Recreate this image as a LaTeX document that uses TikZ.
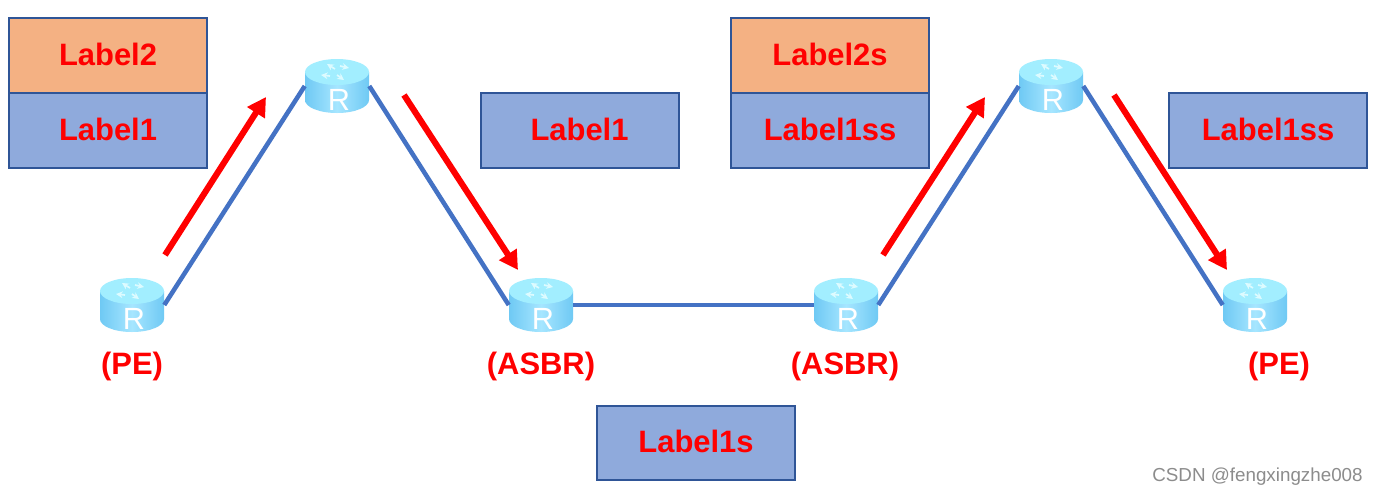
\documentclass[tikz,border=0pt]{standalone}
\usepackage{fontspec}
\setmainfont{Liberation Sans}
\usetikzlibrary{arrows.meta}
\definecolor{boxblue}{HTML}{8FAADC}
\definecolor{boxorange}{HTML}{F4B183}
\definecolor{boxline}{HTML}{2F5597}
\definecolor{linkblue}{HTML}{4472C4}
\definecolor{rtop}{HTML}{A2EEFF}
\definecolor{rside}{HTML}{A6E6FF}
\definecolor{rsidedark}{HTML}{6FC9F4}
\definecolor{rlight}{HTML}{DDFBFF}
\tikzset{
  x=0.75pt,y=-0.75pt,
  labelbox/.style={draw=boxline,line width=1.5pt,minimum width=148.5pt,minimum height=56.2pt,inner sep=0pt,
     text=red,font=\fontsize{23.2pt}{26pt}\selectfont\bfseries,text depth=2.2pt},
  bluebox/.style={labelbox,fill=boxblue},
  orangebox/.style={labelbox,fill=boxorange},
  routerbox/.style={minimum width=48pt,minimum height=42pt,inner sep=0pt},
  rolelabel/.style={text=red,font=\fontsize{23.2pt}{26pt}\selectfont\bfseries,anchor=base,inner sep=0pt},
  link/.style={draw=linkblue,line width=3.4pt},
  flow/.style={draw=red,line width=4.6pt,-{Triangle[length=14pt,width=15pt]}},
  rletter/.style={text=white,font=\fontsize{23pt}{24pt}\selectfont,anchor=base,inner sep=0pt},
  markglyph/.style={draw=rlight,line width=1.3pt,-{Stealth[length=5pt,width=5pt]}}
}
\newcommand{\routernode}[2]{%
  \node[routerbox] (#1) at (#2) {};
  \begin{scope}[shift={(#2)}]
    \path[left color=rsidedark,right color=rsidedark,middle color=rside]
      (-32,-14) -- (-32,14) arc[x radius=32,y radius=13,start angle=180,end angle=0] -- (32,-14) -- cycle;
    \path[fill=rtop] (0,-14) ellipse[x radius=32,y radius=13];
    \draw[markglyph] (-2,-17) -- (-10,-22);
    \draw[markglyph] (3,-20) -- (12,-18);
    \draw[markglyph] (-7,-10) -- (-16,-11);
    \draw[markglyph] (0,-11) -- (7,-6);
    \node[rletter] (#1-R) at (2,24) {R};
  \end{scope}
}
\begin{document}
\begin{tikzpicture}
\useasboundingbox (0,0) rectangle (1378,494);
\fill[white] (0,0) rectangle (1378,494);

\node[orangebox] (l2a) at (108,55.5) {Label2};
\node[bluebox] (l1a) at (108,130.5) {Label1};
\node[bluebox] (l1b) at (579.5,130.5) {Label1};
\node[orangebox] (l2b) at (830,55.5) {Label2s};
\node[bluebox] (l1c) at (830,130.5) {Label1ss};
\node[bluebox] (l1d) at (1268,130.5) {Label1ss};
\node[bluebox] (l1e) at (696,443) {Label1s};

\routernode{r1}{132,305}
\routernode{r2}{337,86}
\routernode{r3}{541,305}
\routernode{r4}{846,305}
\routernode{r5}{1051,86}
\routernode{r6}{1255,305}

\draw[link] (r1.east) -- (r2.west);
\draw[link] (r2.east) -- (r3.west);
\draw[link] (r3.east) -- (r4.west);
\draw[link] (r4.east) -- (r5.west);
\draw[link] (r5.east) -- (r6.west);

\coordinate (f1s) at (165,255); \coordinate (f1e) at (266,97);
\coordinate (f2s) at (404,95);  \coordinate (f2e) at (518,270);
\coordinate (f3s) at (883,255); \coordinate (f3e) at (985,97);
\coordinate (f4s) at (1114,95); \coordinate (f4e) at (1227,270);
\draw[flow] (f1s) -- (f1e);
\draw[flow] (f2s) -- (f2e);
\draw[flow] (f3s) -- (f3e);
\draw[flow] (f4s) -- (f4e);

\node[rolelabel] (pe1) at (132,374) {(PE)};
\node[rolelabel] (as1) at (541,374) {(ASBR)};
\node[rolelabel] (as2) at (845,374) {(ASBR)};
\node[rolelabel] (pe2) at (1279,374) {(PE)};

\node[text=black!45,font=\fontsize{14.1pt}{16pt}\selectfont,anchor=base,inner sep=0pt] (wm) at (1257.5,481) {CSDN @fengxingzhe008};
\end{tikzpicture}
\end{document}
